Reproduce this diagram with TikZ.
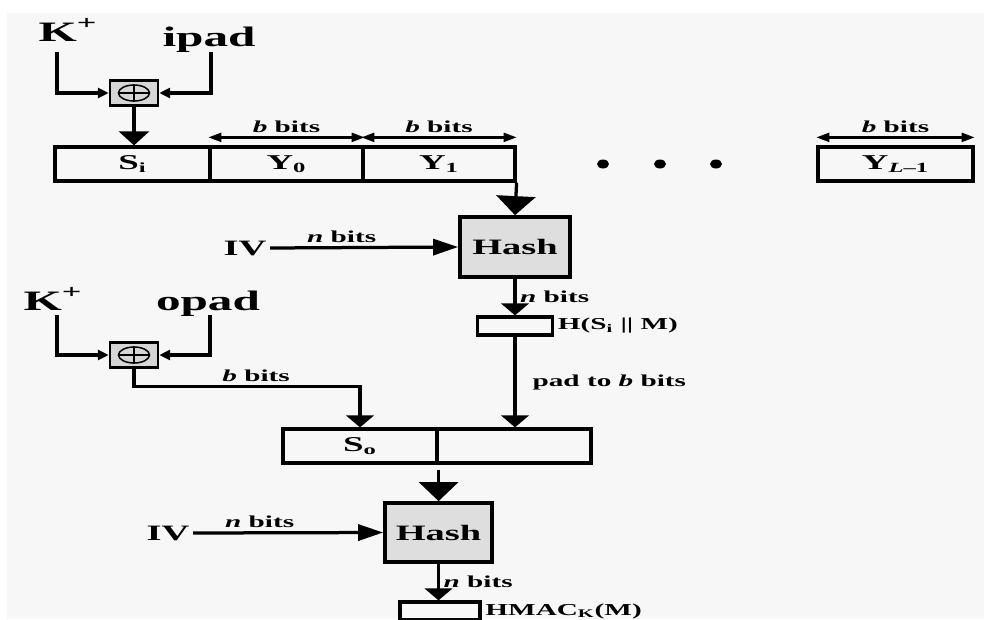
\documentclass[tikz,border=0pt]{standalone}
\usepackage{fontspec}
\setmainfont{Liberation Serif}[FakeStretch=1.75]
\usepackage{tikz}
\usetikzlibrary{shapes.geometric, arrows.meta, positioning, calc}
\usepackage{xcolor}
\definecolor{paper}{HTML}{F7F7F7}
\definecolor{hashgray}{HTML}{DEDEDE}
\definecolor{xorgray}{HTML}{D6D6D6}

\tikzset{
    blockbox/.style={draw, line width=0.065cm, fill=paper, minimum width=3.08cm, minimum height=0.68cm, inner sep=0pt, font=\fontsize{12}{14}\selectfont\bfseries},
    hashbox/.style={draw, line width=0.075cm, fill=hashgray, minimum width=2.2cm, minimum height=1.2cm, inner sep=0pt, font=\fontsize{12.5}{14}\selectfont\bfseries},
    outbox/.style={draw, line width=0.065cm, fill=paper, minimum width=1.5cm, minimum height=0.36cm, inner sep=0pt},
    xorbox/.style={draw, line width=0.05cm, fill=xorgray, minimum width=0.96cm, minimum height=0.5cm, inner sep=0pt},
    xorring/.style={ellipse, draw, line width=0.03cm, minimum width=0.62cm, minimum height=0.32cm, inner sep=0pt},
    keylabel/.style={anchor=base, inner sep=0pt, font=\fontsize{16}{19}\selectfont\bfseries},
    ivlabel/.style={inner sep=2pt, font=\fontsize{12.5}{14}\selectfont\bfseries},
    bitlabel/.style={inner sep=2pt, font=\fontsize{9.5}{11}\selectfont\bfseries},
    wire/.style={line width=0.065cm},
    bigarr/.style={wire, -{Triangle[length=0.38cm, width=0.78cm]}},
    siarr/.style={wire, -{Triangle[length=0.28cm, width=0.6cm]}},
    midarr/.style={wire, -{Triangle[length=0.24cm, width=0.55cm]}},
    ivarr/.style={wire, -{Triangle[length=0.5cm, width=0.32cm]}},
    xorarr/.style={wire, -{Triangle[length=0.22cm, width=0.2cm]}},
    dimarr/.style={line width=0.045cm, {Triangle[length=0.26cm, width=0.18cm]}-{Triangle[length=0.26cm, width=0.18cm]}}
}

\begin{document}
\begin{tikzpicture}[x=0.02cm, y=-0.02cm]
    \clip (0,0) rectangle (984,619);
    \fill[white] (0,0) rectangle (984,619);
    \fill[paper] (7,13) rectangle (984,619);

    % inner key
    \node[keylabel] (K1) at (68,41) {K\textsuperscript{+}};
    \node[keylabel] (ipad) at (209,46) {ipad};
    \node[xorbox] (x1) at (134,93) {};
    \node[xorring] (r1) at (x1) {};
    \draw[line width=0.03cm] (r1.north) -- (r1.south) (r1.west) -- (r1.east);
    \draw[xorarr] ([xshift=-0.22cm, yshift=-0.22cm]K1.base) |- (x1.west);
    \draw[xorarr] ([xshift=0.04cm, yshift=-0.12cm]ipad.base) |- (x1.east);

    \node[blockbox, minimum width=3.1cm] (Si) at (132.5,164) {S\textsubscript{i}};
    \node[blockbox, minimum width=3.06cm] (Y0) at (286.5,164) {Y\textsubscript{0}};
    \node[blockbox, minimum width=3.04cm] (Y1) at (439,164) {Y\textsubscript{1}};
    \node[blockbox, minimum width=3.1cm] (YL) at (895.5,164) {Y\textsubscript{\textit{L}–1}};
    \draw[siarr] (x1.south) -- (x1.south |- Si.north);
    \foreach \b in {Y0, Y1, YL}
        \draw[dimarr] ([yshift=0.16cm]\b.north west) -- ([yshift=0.16cm]\b.north east)
            node[midway, above, bitlabel] (bb\b) {\textit{b} bits};
    \foreach \dx in {603, 660, 716}
        \fill (\dx,164) ellipse [x radius=0.12cm, y radius=0.09cm];

    % inner hash
    \node[hashbox] (H1) at (515,247) {Hash};
    \node[ivlabel] (IV1) at (245,248) {IV};
    \draw[bigarr] (Y1.south east) -- (H1.north);
    \draw[ivarr] (IV1.east) -- (H1.west) node[pos=0.38, above, bitlabel] (nb1) {\textit{n} bits};
    \node[outbox] (hin) at (515,326) {};
    \node[bitlabel, right] (hinlab) at (hin.east) {H(S\textsubscript{i} || M)};
    \draw[midarr] (H1.south) -- (hin.north) node[midway, right, bitlabel] (nb2) {\textit{n} bits};

    % outer key
    \node[keylabel] (K2) at (53,310) {K\textsuperscript{+}};
    \node[keylabel] (opad) at (208,310) {opad};
    \node[xorbox] (x2) at (134,355) {};
    \node[xorring] (r2) at (x2) {};
    \draw[line width=0.03cm] (r2.north) -- (r2.south) (r2.west) -- (r2.east);
    \draw[xorarr] ([xshift=0.08cm, yshift=-0.1cm]K2.base) |- (x2.west);
    \draw[xorarr] ([xshift=0.04cm, yshift=-0.1cm]opad.base) |- (x2.east);

    \node[blockbox] (So) at (360,446) {S\textsubscript{o}};
    \node[blockbox] (Pad) at (514,446) {};
    \draw[midarr] (x2.south) |- node[pos=0.77, above, bitlabel] (bb2) {\textit{b} bits} ([yshift=0.82cm]So.north) -- (So.north);
    \draw[midarr] (hin.south) -- (hin.south |- Pad.north)
        node[midway, right=0.25cm, bitlabel] (padlab) {pad to \textit{b} bits};

    % outer hash
    \node[hashbox, minimum width=2.14cm, minimum height=1.18cm] (H2) at (438.5,532.5) {Hash};
    \node[ivlabel] (IV2) at (168,533) {IV};
    \draw[bigarr, shorten <=0.1cm] (So.south east) -- (So.south east |- H2.north);
    \draw[ivarr] (IV2.east) -- (H2.west) node[pos=0.35, above, bitlabel] (nb3) {\textit{n} bits};
    \node[outbox, minimum width=1.6cm] (hout) at (440,611) {};
    \node[bitlabel, right] (houtlab) at (hout.east) {HMAC\textsubscript{K}(M)};
    \draw[midarr] (H2.south) -- (H2.south |- hout.north) node[midway, right, bitlabel] (nb4) {\textit{n} bits};
\end{tikzpicture}
\end{document}
